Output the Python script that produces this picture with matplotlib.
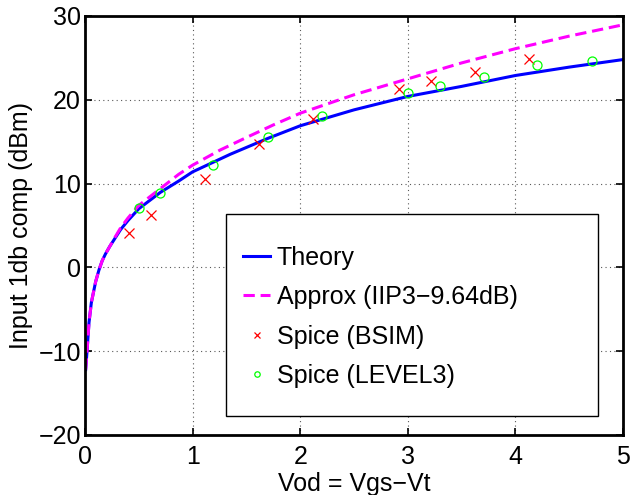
import matplotlib.pyplot as plt
from matplotlib.patches import Rectangle

plt.rcParams['font.family'] = ['Liberation Sans', 'DejaVu Sans']

# theory curve
vod_theory = [0.006, 0.02, 0.037, 0.059, 0.099, 0.13, 0.16, 0.19, 0.23, 0.27, 0.33, 0.4,
              0.5, 0.7, 0.87, 1.0, 1.35, 1.7, 2.0, 2.5, 3.0, 3.5, 4.0, 4.5, 5.0]
p1db_theory = [-12.2, -9.8, -6.6, -4.2, -1.7, -0.3, 0.8, 1.6, 2.5, 3.3, 4.5, 5.6,
               7.0, 8.95, 10.3, 11.4, 13.5, 15.4, 16.9, 18.8, 20.4, 21.6, 22.9, 23.9, 24.8]

# approximation IIP3 - 9.64 dB
vod_approx = [0.006, 0.02, 0.037, 0.059, 0.099, 0.13, 0.16, 0.19, 0.23, 0.27, 0.33, 0.4,
              0.5, 0.7, 0.87, 1.0, 1.255, 1.5, 1.75, 2.0, 2.5, 3.0, 3.5, 4.0, 4.5, 5.0]
p1db_approx = [-12.2, -9.8, -6.6, -4.2, -1.7, -0.3, 0.8, 1.6, 2.5, 3.4, 4.7, 5.9,
               7.4, 9.4, 11.1, 12.2, 14.0, 15.5, 17.0, 18.4, 20.6, 22.5, 24.4, 26.1, 27.6, 28.95]

# spice results
vod_bsim = [0.41, 0.61, 1.115, 1.617, 2.12, 2.92, 3.22, 3.62, 4.13]
p1db_bsim = [4.1, 6.2, 10.6, 14.7, 17.7, 21.3, 22.2, 23.3, 24.9]

vod_lvl3 = [0.5, 0.7, 1.19, 1.70, 2.20, 3.0, 3.30, 3.71, 4.20, 4.71]
p1db_lvl3 = [7.1, 8.9, 12.2, 15.55, 18.05, 20.8, 21.6, 22.7, 24.1, 24.6]

fs = 18

fig = plt.figure(figsize=(6.3, 4.95), dpi=100)
ax = fig.add_axes([85 / 630, 1 - 435 / 495, 538 / 630, 419 / 495])

l1, = ax.plot(vod_theory, p1db_theory, color='b', lw=2.2)
l2, = ax.plot(vod_approx, p1db_approx, color=(1, 0, 1), lw=2.2, linestyle=(0, (3.7, 1.9)))
l3, = ax.plot(vod_bsim, p1db_bsim, 'x', color='r', ms=7, mew=0.9, linestyle='none')
l4, = ax.plot(vod_lvl3, p1db_lvl3, 'o', color=(0, 1, 0), ms=6.5, mew=0.9,
              mfc='none', linestyle='none')

ax.set_xlim(0, 5)
ax.set_ylim(-20, 30)
ax.set_xticks([0, 1, 2, 3, 4, 5])
ax.set_yticks([-20, -10, 0, 10, 20, 30])
ax.grid(True, linestyle=(0, (1, 3)), color='0.35', linewidth=0.8)
ax.tick_params(direction='in', top=True, right=True, length=5, width=1.2,
               labelsize=fs)
ax.tick_params(axis='x', pad=7)
ax.tick_params(axis='y', pad=3)
for s in ax.spines.values():
    s.set_linewidth(2)

ax.set_xlabel('Vod = Vgs\u2212Vt', fontsize=fs, labelpad=2)
ax.set_ylabel('Input 1db comp (dBm)', fontsize=fs, labelpad=4)

# legend box
ax.add_patch(Rectangle((0.262, 0.045), 0.692, 0.482, transform=ax.transAxes,
                       facecolor='white', edgecolor='k', lw=1, zorder=4))
leg = ax.legend([l1, l2, l3, l4],
                ['Theory', 'Approx (IIP3\u22129.64dB)', 'Spice (BSIM)', 'Spice (LEVEL3)'],
                loc='center left', bbox_to_anchor=(0.27, 0.282), frameon=False,
                fontsize=fs, borderpad=0, handlelength=1.1, handletextpad=0.25,
                labelspacing=0.62, numpoints=1, markerscale=0.6)
leg.set_zorder(5)

fig.savefig('out.png', dpi=100)
